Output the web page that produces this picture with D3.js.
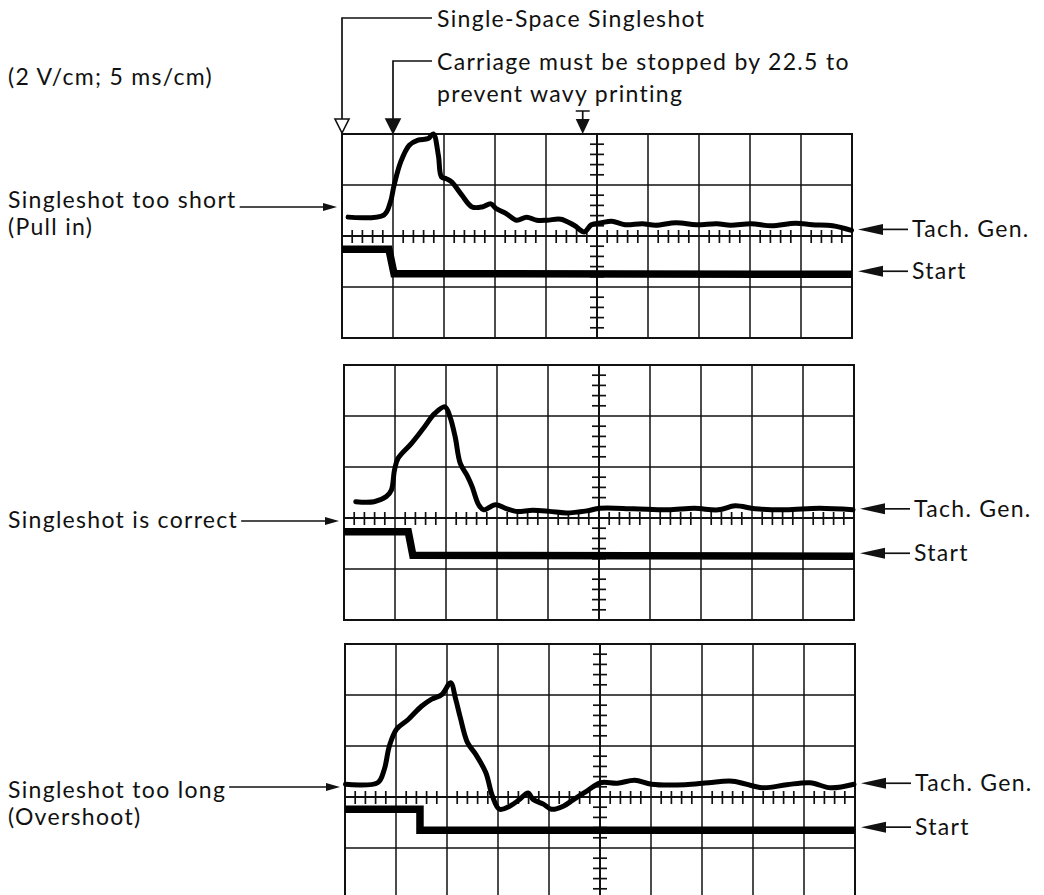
<!DOCTYPE html>
<html>
<head>
<meta charset="utf-8"/>
<script src="https://d3js.org/d3.v7.min.js"></script>
<style>
body { margin: 0; background: #fff; }
text { font-family: Lato, "Open Sans", sans-serif; font-size: 23px; fill: #111; letter-spacing: 1.3px; }
.grid { stroke: #111; stroke-width: 1.5; fill: none; }
.frame { stroke: #111; stroke-width: 2; fill: none; }
.tick { stroke: #111; stroke-width: 1.7; }
.tach { fill: none; stroke: #000; stroke-width: 5; stroke-linejoin: round; stroke-linecap: round; }
.start { fill: none; stroke: #000; stroke-width: 7.5; stroke-linejoin: miter; }
.lead { stroke: #111; stroke-width: 1.7; fill: none; }
</style>
</head>
<body>
<script>
// scope settings: 5 ms per division, 2 V per division
var msPerDiv = 5, voltsPerDiv = 2;
var scaleNote = "(2 V/cm; 5 ms/cm)";
var topNotes = ["Single-Space Singleshot", "Carriage must be stopped by 22.5 to", "prevent wavy printing"];
var markerTimes = [0, 5, 23.6];   // ms: singleshot start, carriage limit, stop mark
var traceNames = ["Tach. Gen.", "Start"];
var caseLabels = [["Singleshot too short", "(Pull in)"], ["Singleshot is correct"], ["Singleshot too long", "(Overshoot)"]];

// tach generator trace, [ms, V] relative to the centre line
var tachShort = [[0.6,0.74],[4.1,0.82],[4.75,1.34],[5.1,1.98],[5.75,2.9],[6.6,3.56],[7.45,3.76],[8.45,3.82],[8.95,4.0],
  [9.45,3.16],[9.75,2.32],[10.25,2.24],[10.75,2.12],[11.75,1.6],[12.75,1.14],[13.75,1.14],[14.6,1.26],[15.1,1.08],[16.1,0.88],
  [17.1,0.62],[18.1,0.74],[19.1,0.62],[20.1,0.62],[21.45,0.66],[22.75,0.42],[23.75,0.16],[24.45,0.44],[25.45,0.52],[26.45,0.58],
  [27.75,0.44],[29.45,0.48],[30.75,0.42],[32.75,0.52],[34.75,0.44],[36.75,0.48],[38.1,0.42],[40.1,0.48],[42.1,0.4],[44.45,0.5],
  [46.1,0.44],[48.1,0.4],[49.95,0.22]];
var tachCorrect = [[1.15,0.64],[2.95,0.64],[4.15,0.84],[4.65,1.1],[4.95,1.88],[5.3,2.34],[6.6,2.92],[7.75,3.5],[8.9,4.1],
  [9.9,4.36],[10.4,3.96],[10.9,3.18],[11.4,2.14],[12.05,1.68],[12.55,1.24],[13.2,0.52],[13.7,0.32],[14.85,0.52],[15.85,0.38],
  [16.85,0.26],[18.5,0.3],[20.15,0.26],[21.8,0.2],[23.8,0.28],[25.1,0.38],[28.4,0.36],[31.75,0.32],[34.35,0.38],[36.7,0.32],
  [38.35,0.48],[40.3,0.36],[43.3,0.32],[46.6,0.38],[49.9,0.32]];
var tachLong = [[0.05,0.5],[3.2,0.56],[3.85,1.08],[4.35,2.0],[5.05,2.66],[6.2,3.04],[7.5,3.56],[8.5,3.84],[9.5,4.02],
  [10.35,4.48],[10.85,3.84],[11.3,3.12],[12.0,2.14],[12.8,1.68],[13.8,0.96],[14.45,0.04],[15.15,-0.48],[16.15,-0.36],
  [17.1,-0.1],[17.95,0.16],[18.45,-0.1],[19.45,-0.28],[20.25,-0.48],[21.4,-0.36],[22.4,-0.1],[23.75,0.24],[25.05,0.56],
  [26.7,0.54],[28.4,0.66],[30.05,0.5],[33.35,0.48],[35.65,0.56],[38.0,0.62],[40.95,0.36],[43.3,0.48],[45.6,0.56],
  [47.6,0.36],[49.9,0.5]];

// start pulse trace
var startShort = [[0,-0.52],[4.6,-0.52],[5.1,-1.48],[50,-1.5]];
var startCorrect = [[0,-0.54],[6.3,-0.54],[6.75,-1.46],[50,-1.5]];
var startLong = [[0,-0.48],[7.35,-0.48],[7.35,-1.3],[50,-1.3]];

var width = 1044, height = 895, DIV = 51;

// where each photo sits on the page
var panels = [
  {x0: 342, top: 134, rows: 4, above: 2, tach: tachShort, start: startShort, label: caseLabels[0], baseY: 208, arrowDy: 1},
  {x0: 344, top: 365, rows: 5, above: 3, tach: tachCorrect, start: startCorrect, label: caseLabels[1], baseY: 528, arrowDy: 7},
  {x0: 345, top: 644, rows: 5, above: 3, tach: tachLong, start: startLong, label: caseLabels[2], baseY: 798, arrowDy: 11}
];

var svg = d3.select("body").append("svg")
    .attr("width", width)
    .attr("height", height);

function arrowHead(g, x, y, dir, len, half) {
  // dir: +1 points right, -1 points left
  g.append("path")
    .attr("d", "M" + x + "," + y + "L" + (x - dir * len) + "," + (y - half) + "L" + (x - dir * len) + "," + (y + half) + "Z")
    .attr("fill", "#111");
}

var firstX;

panels.forEach(function(p, i) {
  var x = d3.scaleLinear().domain([0, 10 * msPerDiv]).range([p.x0, p.x0 + 10 * DIV]);
  var yMax = p.above * voltsPerDiv, yMin = -(p.rows - p.above) * voltsPerDiv;
  var y = d3.scaleLinear().domain([yMin, yMax]).range([p.top + p.rows * DIV, p.top]);
  if (i === 0) firstX = x;

  var g = svg.append("g");

  // grid
  d3.range(0, 10 * msPerDiv + 1, msPerDiv).forEach(function(t) {
    g.append("line").attr("class", "grid")
      .attr("x1", x(t)).attr("x2", x(t)).attr("y1", y(yMin)).attr("y2", y(yMax));
  });
  d3.range(yMin, yMax + 1, voltsPerDiv).forEach(function(v) {
    g.append("line").attr("class", "grid")
      .attr("x1", x(0)).attr("x2", x(50)).attr("y1", y(v)).attr("y2", y(v));
  });
  g.append("rect").attr("class", "frame")
    .attr("x", x(0)).attr("y", y(yMax)).attr("width", x(50) - x(0)).attr("height", y(yMin) - y(yMax));

  // graticule minor ticks on the centre lines
  g.append("line").attr("class", "grid").style("stroke-width", 2)
    .attr("x1", x(0)).attr("x2", x(50)).attr("y1", y(0)).attr("y2", y(0));
  g.append("line").attr("class", "grid").style("stroke-width", 2)
    .attr("x1", x(25)).attr("x2", x(25)).attr("y1", y(yMin)).attr("y2", y(yMax));
  d3.range(1, 50).filter(function(t) { return t % msPerDiv !== 0; }).forEach(function(t) {
    g.append("line").attr("class", "tick")
      .attr("x1", x(t)).attr("x2", x(t)).attr("y1", y(0) - 6).attr("y2", y(0) + 7);
  });
  d3.range(yMin, yMax + 0.001, voltsPerDiv / 5).forEach(function(v) {
    var r = Math.round(v * 10) / 10;
    if (Math.abs(r % voltsPerDiv) < 0.01) return;
    g.append("line").attr("class", "tick")
      .attr("x1", x(25) - 7).attr("x2", x(25) + 7).attr("y1", y(r)).attr("y2", y(r));
  });

  // traces
  var line = d3.line().x(function(d) { return x(d[0]); }).y(function(d) { return y(d[1]); });
  g.append("path").attr("class", "start").attr("d", line(p.start));
  g.append("path").attr("class", "tach").attr("d", line.curve(d3.curveCatmullRom.alpha(0.5))(p.tach));

  // trace names on the right
  var ends = [p.tach[p.tach.length - 1][1], p.start[p.start.length - 1][1]];
  ends.forEach(function(v, k) {
    var ay = y(v) + (k === 0 ? -1 : -3);
    arrowHead(g, x(50) + 6, ay, -1, 25, 5.5);
    g.append("line").attr("class", "lead").attr("x1", x(50) + 30).attr("x2", x(50) + 56).attr("y1", ay).attr("y2", ay);
    g.append("text").attr("x", x(50) + 60).attr("y", ay + 8).text(traceNames[k]);
  });

  // case label on the left
  var t0 = g.append("text").attr("x", 8).attr("y", p.baseY).text(p.label[0]);
  if (p.label[1]) g.append("text").attr("x", 8).attr("y", p.baseY + 27).text(p.label[1]);
  var tw = t0.node().getComputedTextLength();
  var ay = p.baseY - p.arrowDy;
  g.append("line").attr("class", "lead").attr("x1", 8 + tw + 3).attr("x2", x(0) - 16).attr("y1", ay).attr("y2", ay);
  arrowHead(g, x(0) - 5, ay, 1, 14, 4);
});

// top annotations
var ann = svg.append("g");
ann.append("text").attr("x", 8).attr("y", 85).text(scaleNote);
ann.append("text").attr("x", 437).attr("y", 27).text(topNotes[0]);
ann.append("text").attr("x", 437).attr("y", 70).text(topNotes[1]);
ann.append("text").attr("x", 437).attr("y", 102).text(topNotes[2]);

var leadY = [18, 61];
[0, 1].forEach(function(k) {
  var mx = firstX(markerTimes[k]);
  ann.append("path").attr("class", "lead")
    .attr("d", "M432," + leadY[k] + "H" + mx + "V119");
  ann.append("path")
    .attr("d", "M" + (mx - 7) + ",119L" + (mx + 7) + ",119L" + mx + ",133Z")
    .attr("fill", k === 0 ? "#fff" : "#111")
    .attr("stroke", "#111").attr("stroke-width", 1.6);
});
var sx = firstX(markerTimes[2]);
ann.append("path").attr("class", "lead").attr("d", "M" + (sx - 7) + ",111H" + (sx + 7) + "M" + sx + ",111V120");
ann.append("path")
  .attr("d", "M" + (sx - 7) + ",119L" + (sx + 7) + ",119L" + sx + ",134Z")
  .attr("fill", "#111");
</script>
</body>
</html>
